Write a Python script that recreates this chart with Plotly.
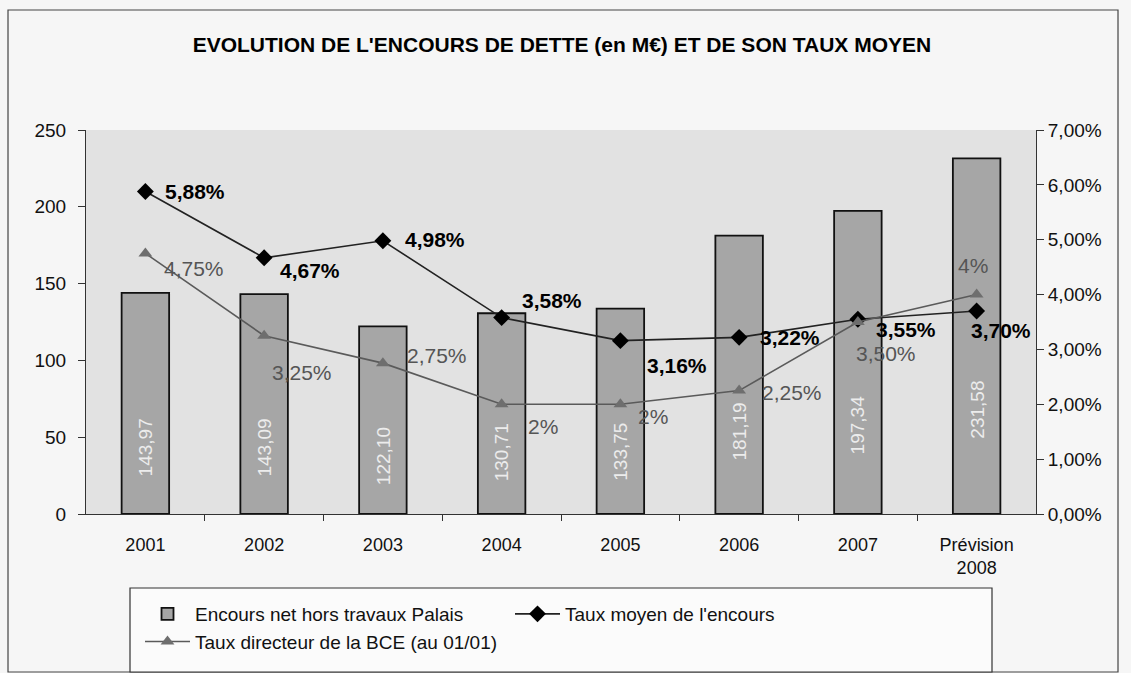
import plotly.graph_objects as go

categories = ["2001", "2002", "2003", "2004", "2005", "2006", "2007", "Prévision<br>2008"]
encours = [143.97, 143.09, 122.10, 130.71, 133.75, 181.19, 197.34, 231.58]
encours_labels = ["143,97", "143,09", "122,10", "130,71", "133,75", "181,19", "197,34", "231,58"]
taux_moyen = [5.88, 4.67, 4.98, 3.58, 3.16, 3.22, 3.55, 3.70]
taux_moyen_labels = ["5,88%", "4,67%", "4,98%", "3,58%", "3,16%", "3,22%", "3,55%", "3,70%"]
taux_bce = [4.75, 3.25, 2.75, 2.0, 2.0, 2.25, 3.50, 4.0]
taux_bce_labels = ["4,75%", "3,25%", "2,75%", "2%", "2%", "2,25%", "3,50%", "4%"]
left_ticks = [0, 50, 100, 150, 200, 250]
right_ticks = [0, 1, 2, 3, 4, 5, 6, 7]
right_tick_labels = ["0,00%", "1,00%", "2,00%", "3,00%", "4,00%", "5,00%", "6,00%", "7,00%"]

FONT = "Liberation Sans, Arial, sans-serif"
idx = list(range(len(categories)))

# plot area in pixels: x 86..1036, y 130..514
PL, PR, PT, PB = 86, 1036, 130, 514
PW, PH = PR - PL, PB - PT


def px(x):
    return (x - PL) / PW


def py(y):
    return (PB - y) / PH


fig = go.Figure()
fig.add_trace(go.Bar(
    x=idx, y=encours, name="Encours net hors travaux Palais",
    marker=dict(color="#a6a6a6", line=dict(color="#111111", width=1.8)),
    width=0.40, yaxis="y",
))
fig.add_trace(go.Scatter(
    x=idx, y=taux_moyen, name="Taux moyen de l'encours",
    mode="lines+markers", line=dict(color="#222222", width=1.6),
    marker=dict(symbol="diamond", size=13, color="#000000"),
    yaxis="y2",
))
fig.add_trace(go.Scatter(
    x=idx, y=taux_bce, name="Taux directeur de la BCE (au 01/01)",
    mode="lines+markers", line=dict(color="#5a5a5a", width=1.6),
    marker=dict(symbol="triangle-up", size=12, color="#6e6e6e"),
    yaxis="y2",
))

# bar value labels (rotated, light, inside the bars)
for i in idx:
    fig.add_annotation(x=i, y=4 + 0.275 * encours[i], xref="x", yref="y",
                       text=encours_labels[i], textangle=-90, showarrow=False,
                       font=dict(size=19, color="#ececec", family=FONT))

# label offsets (pixels) for the two line series
tm_off = [(50, 0), (46, -13), (52, 1), (50, 17), (57, -25), (51, 0), (48, -10), (24, -19)]
bce_off = [(49, -15), (38, -37), (54, 8), (41, -22), (33, -12), (53, -2), (28, -31), (-4, 29)]
for i in idx:
    dx, dy = tm_off[i]
    fig.add_annotation(x=i, y=taux_moyen[i], xref="x", yref="y2",
                       text="<b>" + taux_moyen_labels[i] + "</b>",
                       showarrow=False, xshift=dx, yshift=dy,
                       font=dict(size=21, color="#000000", family=FONT))
    dx, dy = bce_off[i]
    fig.add_annotation(x=i, y=taux_bce[i], xref="x", yref="y2", text=taux_bce_labels[i],
                       showarrow=False, xshift=dx, yshift=dy,
                       font=dict(size=21, color="#555555", family=FONT))

# outer frame
fig.add_shape(type="rect", xref="paper", yref="paper",
              x0=px(8), x1=px(1118), y0=py(672), y1=py(10),
              line=dict(color="#444444", width=1.2), fillcolor="rgba(0,0,0,0)", layer="below")
# legend frame
fig.add_shape(type="rect", xref="paper", yref="paper",
              x0=px(130), x1=px(992), y0=py(672), y1=py(588),
              line=dict(color="#333333", width=1.2), fillcolor="#fbfbfb", layer="below")

fig.update_layout(
    width=1131, height=673,
    margin=dict(l=PL, r=1131 - PR, t=PT, b=673 - PB),
    paper_bgcolor="#f6f6f6",
    plot_bgcolor="#e2e2e2",
    font=dict(family=FONT, size=18, color="#111111"),
    title=dict(text="<b>EVOLUTION DE L'ENCOURS DE DETTE (en M€) ET DE SON TAUX MOYEN</b>",
               x=px(558), xanchor="center", y=1 - 45 / 673, yanchor="middle",
               font=dict(family=FONT, size=21, color="#000000")),
    showlegend=True,
    legend=dict(orientation="h", x=px(140), y=py(595),
                xanchor="left", yanchor="top",
                bgcolor="rgba(0,0,0,0)", borderwidth=0,
                font=dict(family=FONT, size=19, color="#111111"),
                entrywidth=310, entrywidthmode="pixels",
                traceorder="normal", itemwidth=45),
    xaxis=dict(type="linear", tickvals=idx, ticktext=categories,
               showline=True, linecolor="#333333", linewidth=1,
               ticks="", showgrid=False, zeroline=False,
               ticklabelstandoff=14,
               tickfont=dict(size=18, color="#111111"),
               range=[-0.5, 7.5]),
    yaxis=dict(range=[0, 250], tickvals=left_ticks, showgrid=False,
               showline=True, linecolor="#333333", linewidth=1,
               ticks="outside", ticklen=7, tickcolor="#333333",
               ticklabelstandoff=8,
               tickfont=dict(size=19, color="#111111"), zeroline=False),
    yaxis2=dict(range=[0, 7], tickvals=right_ticks, ticktext=right_tick_labels,
                overlaying="y", side="right", showgrid=False,
                showline=True, linecolor="#333333", linewidth=1,
                ticks="outside", ticklen=7, tickcolor="#333333",
                tickfont=dict(size=19, color="#111111"), zeroline=False),
    xaxis2=dict(overlaying="x", range=[-0.5, 7.5],
                tickvals=[i + 0.5 for i in idx[:-1]], ticktext=[""] * 7,
                ticks="outside", ticklen=6, tickcolor="#333333",
                showgrid=False, showline=False, zeroline=False,
                side="bottom", anchor="y"),
)

# invisible helper trace so the boundary-tick axis is drawn
fig.add_trace(go.Scatter(x=[-0.5], y=[0], xaxis="x2", yaxis="y", mode="markers",
                         marker=dict(opacity=0), showlegend=False, hoverinfo="skip"))

fig.write_html("out.html", config={"displayModeBar": False},
               post_script="document.body.style.margin='0px';")
